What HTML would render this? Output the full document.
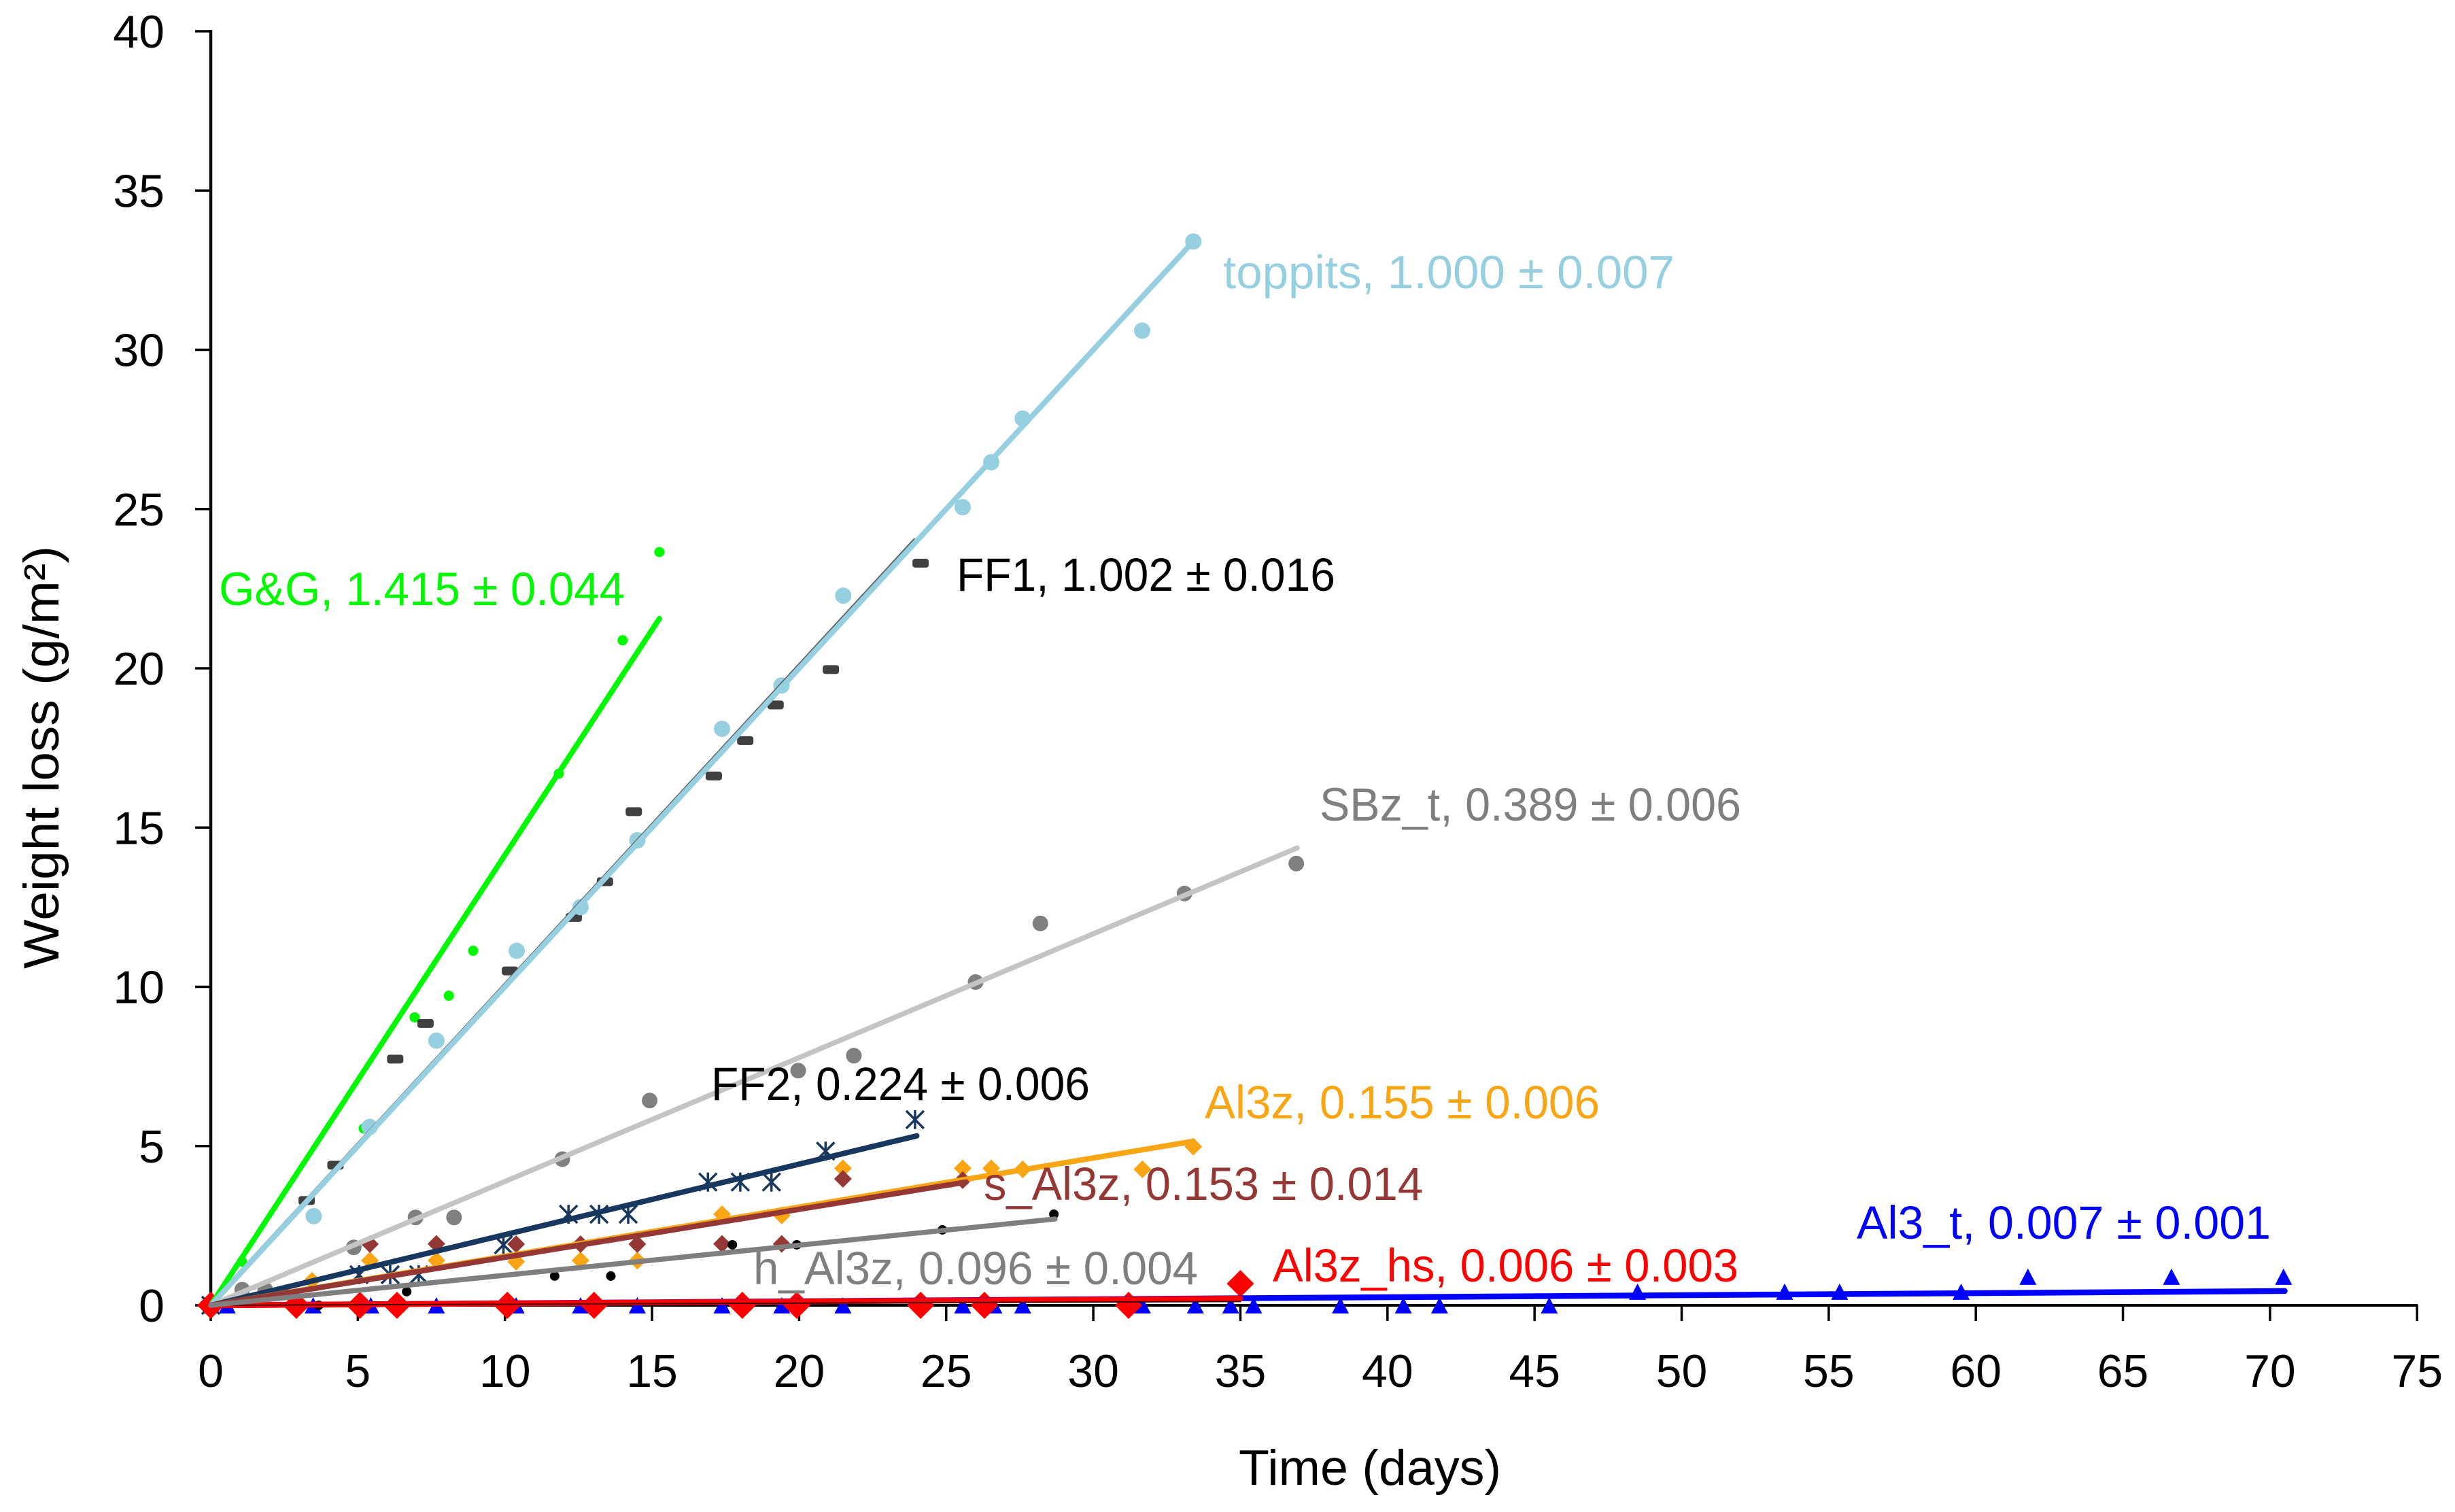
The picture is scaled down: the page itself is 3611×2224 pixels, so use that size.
<!DOCTYPE html>
<html lang="en">
<head>
<meta charset="utf-8">
<title>Weight loss over time</title>
<style>
html,body{margin:0;padding:0;background:#fff;}
svg{display:block;}
text{font-family:"Liberation Sans",sans-serif;}
</style>
</head>
<body>
<svg id="chart" xmlns="http://www.w3.org/2000/svg" width="3611" height="2224" viewBox="0 0 3611 2224">
  <rect x="0" y="0" width="3611" height="2224" fill="#ffffff"/>
  <g id="axes"></g>
  <g id="markers"></g>
  <g id="fits"></g>
  <g id="labels" font-size="69">
    <text x="1799" y="424" fill="#95cfe0" textLength="664" lengthAdjust="spacingAndGlyphs">toppits, 1.000 ± 0.007</text>
    <text x="1407" y="869" fill="#000000" textLength="557" lengthAdjust="spacingAndGlyphs">FF1, 1.002 ± 0.016</text>
    <text x="322" y="890" fill="#00f800" textLength="597" lengthAdjust="spacingAndGlyphs">G&amp;G, 1.415 ± 0.044</text>
    <text x="1941" y="1207" fill="#7f7f7f" textLength="620" lengthAdjust="spacingAndGlyphs">SBz_t, 0.389 ± 0.006</text>
    <text x="1046" y="1618" fill="#000000" textLength="557" lengthAdjust="spacingAndGlyphs">FF2, 0.224 ± 0.006</text>
    <text x="1772" y="1645" fill="#faa514" textLength="581" lengthAdjust="spacingAndGlyphs">Al3z, 0.155 ± 0.006</text>
    <text x="1447" y="1765" fill="#953735" textLength="646" lengthAdjust="spacingAndGlyphs">s_Al3z, 0.153 ± 0.014</text>
    <text x="1108" y="1889" fill="#7f7f7f" textLength="654" lengthAdjust="spacingAndGlyphs">h_Al3z, 0.096 ± 0.004</text>
    <text x="1872" y="1885" fill="#ff0000" textLength="685" lengthAdjust="spacingAndGlyphs">Al3z_hs, 0.006 ± 0.003</text>
    <text x="2731" y="1822" fill="#0000ff" textLength="609" lengthAdjust="spacingAndGlyphs">Al3_t, 0.007 ± 0.001</text>
  </g>
  <text x="1822" y="2184" font-size="73" fill="#000" textLength="386" lengthAdjust="spacingAndGlyphs">Time (days)</text>
  <text transform="translate(86,1425) rotate(-90)" x="0" y="0" font-size="73" fill="#000" textLength="622" lengthAdjust="spacingAndGlyphs">Weight loss (g/m²)</text>
</svg>
<script>
// ---- axis ticks ----
var xTickValues = [0,5,10,15,20,25,30,35,40,45,50,55,60,65,70,75];
var yTickValues = [0,5,10,15,20,25,30,35,40];

// ---- series values (days, g/m2) ----
var ggDays = [0,1.06,5.2,6.93,8.09,8.92,11.83,14.0,15.25];
var ggLoss = [0,1.37,5.55,9.04,9.72,11.13,16.69,20.88,23.65];
var ggFitEnd = [15.25,21.56];

var ff1Days = [0,3.26,4.24,6.27,7.3,10.17,12.34,13.4,14.38,17.1,18.17,19.2,21.08,24.13];
var ff1Loss = [0,3.29,4.4,7.73,8.85,10.5,12.18,13.3,15.5,16.62,17.73,18.85,19.96,23.3];
var ff1FitEnd = [23.94,24.0];

var toppitsDays = [0,3.5,5.4,7.67,10.4,12.57,14.5,17.38,19.4,21.5,25.56,26.53,27.6,31.66,33.4];
var toppitsLoss = [0,2.8,5.6,8.31,11.13,12.5,14.6,18.1,19.46,22.28,25.06,26.47,27.84,30.6,33.4];
var toppitsFitEnd = [33.3,33.3];

var sbzDays = [0,1.07,1.85,4.86,6.96,8.27,11.95,14.92,19.97,21.86,26.0,28.2,33.1,36.9];
var sbzLoss = [0,0.49,0.49,1.82,2.76,2.76,4.59,6.43,7.37,7.84,10.15,11.99,12.93,13.87];
var sbzFitEnd = [36.93,14.36];

var ff2Days = [0,5.04,6.1,7.07,9.95,12.16,13.2,14.19,16.9,18.0,19.06,20.9,23.94];
var ff2Loss = [0,0.96,0.96,0.96,1.9,2.86,2.86,2.86,3.87,3.87,3.87,4.84,5.83];
var ff2FitEnd = [24,5.32];

var al3zDays = [0,3.44,5.41,7.67,10.38,12.57,14.5,17.38,19.41,21.49,25.56,26.53,27.6,31.67,33.4];
var al3zLoss = [0,0.77,1.41,1.41,1.37,1.41,1.4,2.86,2.82,4.3,4.3,4.3,4.27,4.27,4.98];
var al3zFitEnd = [33.4,5.15];

var sAl3zDays = [0,5.41,7.67,10.38,12.57,14.5,17.38,19.41,21.49,25.56];
var sAl3zLoss = [0,1.92,1.93,1.92,1.92,1.92,1.93,1.93,3.97,3.93];
var sAl3zFitEnd = [25.68,3.87];

var hAl3zDays = [0,3.67,6.66,11.69,13.6,17.73,19.92,24.87,28.66];
var hAl3zLoss = [0,0,0.43,0.92,0.92,1.9,1.9,2.37,2.86];
var hAl3zFitEnd = [28.7,2.71];

var al3tDays = [0,0.56,3.48,5.44,7.67,10.38,12.57,14.5,17.38,19.41,21.49,25.56,26.62,27.6,31.67,33.47,34.67,35.45,38.4,40.54,41.77,45.5,48.5,53.5,55.37,59.5,61.77,66.65,70.46];
var al3tLoss = [0,0,0,0,0,0,0,0,0,0,0,0,0,0,0,0,0,0,0,0,0,0,0.43,0.43,0.43,0.43,0.9,0.9,0.9];
var al3tFitEnd = [70.5,0.45];

var al3zhsDays = [0,2.91,5.07,6.33,10.08,13.03,18.07,19.92,24.13,26.3,31.2,35];
var al3zhsLoss = [0,0,0,0,0,0,0,0,0,0,0,0.68];
var al3zhsFitEnd = [35,0.21];
var al3zhsBaseFitEnd = [35,0.12];

// ---- axis functions ----
function xScale(d){ return 310 + d * 43.27; }
function yScale(v){ return 1920 - v * 46.85; }

var NS = 'http://www.w3.org/2000/svg';
function make(tag, parent, attrs){
  var el = document.createElementNS(NS, tag);
  for (var k in attrs) { el.setAttribute(k, attrs[k]); }
  parent.appendChild(el);
  return el;
}

// ---- axes ----
var axes = document.getElementById('axes');
var yAxisLine = make('line', axes, {x1:310,y1:yScale(40)-2,x2:310,y2:yScale(0)+2,stroke:'#000','stroke-width':4.5});


var xAxisLine = make('line', axes, {x1:308,y1:yScale(0),x2:xScale(75)+1,y2:yScale(0),stroke:'#000','stroke-width':4});



xTickValues.forEach(function(t){
  var tick = make('line', axes, {x1:xScale(t),y1:yScale(0),x2:xScale(t),y2:yScale(0)+23,stroke:'#000','stroke-width':3.5});
  
  
  var lab = make('text', axes, {x:xScale(t),y:2040,'font-size':68,'text-anchor':'middle',fill:'#000'});
  lab.textContent = String(t);
  
  
});
yTickValues.forEach(function(t){
  var tick = make('line', axes, {x1:287,y1:yScale(t),x2:310,y2:yScale(t),stroke:'#000','stroke-width':3.5});
  
  
  var lab = make('text', axes, {x:242,y:yScale(t)+24,'font-size':68,'text-anchor':'end',fill:'#000'});
  lab.textContent = String(t);
  
  
});

// ---- marker shapes ----
var markerGroup = document.getElementById('markers');
function drawCircle(g, cx, cy, r, color){
  return make('circle', g, {cx:cx,cy:cy,r:r,fill:color});
}
function drawDash(g, cx, cy, color){
  return make('rect', g, {x:cx-12,y:cy-6.5,width:24,height:13,rx:4,fill:color});
}
function drawDiamond(g, cx, cy, h, color){
  return make('polygon', g, {points:(cx-h)+','+cy+' '+cx+','+(cy-h)+' '+(cx+h)+','+cy+' '+cx+','+(cy+h),fill:color});
}
function drawTriangle(g, cx, cy, color){
  return make('polygon', g, {points:(cx-12.5)+','+(cy+12)+' '+cx+','+(cy-12)+' '+(cx+12.5)+','+(cy+12),fill:color});
}
function drawStar(g, cx, cy, color){
  return make('path', g, {d:'M'+cx+' '+(cy-14)+'V'+(cy+14)+'M'+(cx-13)+' '+(cy-13)+'L'+(cx+13)+' '+(cy+13)+'M'+(cx+13)+' '+(cy-13)+'L'+(cx-13)+' '+(cy+13),stroke:color,'stroke-width':3.5,fill:'none'});
}

function drawPoints(name, days, loss, shape){
  var g = make('g', markerGroup, {});
  
  
  days.forEach(function(d, i){
    var mark = shape(g, xScale(d), yScale(loss[i]));
    
    
  });
}

drawPoints('gg', ggDays, ggLoss, function(g,x,y){ return drawCircle(g,x,y,7.5,'#00f800'); });
drawPoints('ff1', ff1Days, ff1Loss, function(g,x,y){ return drawDash(g,x,y,'#404040'); });
drawPoints('toppits', toppitsDays, toppitsLoss, function(g,x,y){ return drawCircle(g,x,y,12,'#95cfe0'); });
drawPoints('sbz-t', sbzDays, sbzLoss, function(g,x,y){ return drawCircle(g,x,y,11.5,'#808080'); });
drawPoints('al3-t', al3tDays, al3tLoss, function(g,x,y){ return drawTriangle(g,x,y,'#0000ff'); });
drawPoints('al3z', al3zDays, al3zLoss, function(g,x,y){ return drawDiamond(g,x,y,13,'#faa514'); });
drawPoints('s-al3z', sAl3zDays, sAl3zLoss, function(g,x,y){ return drawDiamond(g,x,y,13,'#953735'); });
drawPoints('h-al3z', hAl3zDays, hAl3zLoss, function(g,x,y){ return drawCircle(g,x,y,7,'#000000'); });
drawPoints('ff2', ff2Days, ff2Loss, function(g,x,y){ return drawStar(g,x,y,'#17375e'); });
drawPoints('al3z-hs', al3zhsDays, al3zhsLoss, function(g,x,y){ return drawDiamond(g,x,y,20,'#ff0000'); });

// ---- fit lines ----
var fitGroup = document.getElementById('fits');
function drawFit(name, end, color, width){
  var line = make('line', fitGroup, {x1:xScale(0),y1:yScale(0),x2:xScale(end[0]),y2:yScale(end[1]),stroke:color,'stroke-width':width,'stroke-linecap':'round'});
  
  
}
drawFit('gg', ggFitEnd, '#00f800', 8);
drawFit('ff1', ff1FitEnd, '#606060', 8);
drawFit('toppits', toppitsFitEnd, '#95cfe0', 8);
drawFit('sbz-t', sbzFitEnd, '#c4c4c4', 7.5);
drawFit('ff2', ff2FitEnd, '#17375e', 8);
drawFit('al3z', al3zFitEnd, '#faa514', 8);
drawFit('s-al3z', sAl3zFitEnd, '#953735', 8);
drawFit('al3-t', al3tFitEnd, '#0000ff', 8.5);
drawFit('al3z-hs', al3zhsFitEnd, '#ff0000', 8.5);
drawFit('al3z-hs-base', al3zhsBaseFitEnd, '#400000', 2);
drawFit('h-al3z', hAl3zFitEnd, '#7f7f7f', 7.5);
</script>
</body>
</html>
